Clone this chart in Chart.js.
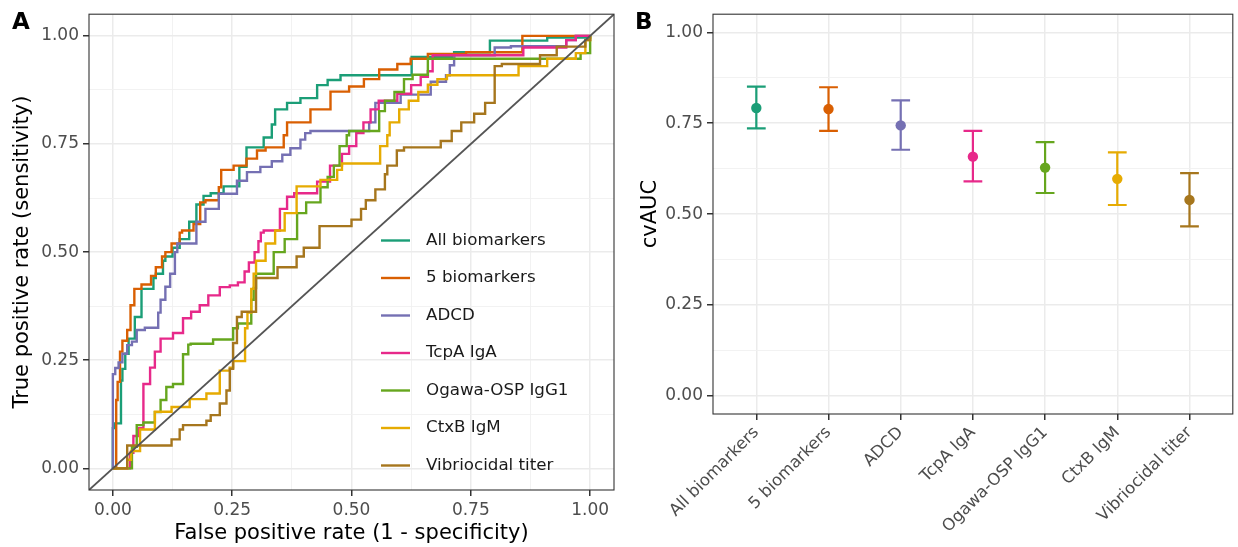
<!DOCTYPE html>
<html>
<head>
<meta charset="utf-8">
<title>ROC curves and cvAUC</title>
<script src="https://cdn.jsdelivr.net/npm/chart.js@4.4.1/dist/chart.umd.min.js"></script>
<style>
  body { margin: 0; background: #fff; }
  #wrap { position: relative; width: 1238px; height: 547px; overflow: hidden; }
  canvas { position: absolute; top: 0; }
  #rocChart { left: 0; }
  #aucChart { left: 620px; }
  .tag { position: absolute; font: bold 23px "DejaVu Sans", sans-serif; line-height: 1; color: #000; }
</style>
</head>
<body>
<div id="wrap">
  <canvas id="rocChart" width="620" height="547"></canvas>
  <canvas id="aucChart" width="618" height="547"></canvas>
  <div class="tag" style="left:12px;top:10px">A</div>
  <div class="tag" style="left:635px;top:10px">B</div>
</div>
<script>
// series names and colours (Dark2)
const seriesNames = ['All biomarkers', '5 biomarkers', 'ADCD', 'TcpA IgA', 'Ogawa-OSP IgG1', 'CtxB IgM', 'Vibriocidal titer'];
const seriesColors = ['#1B9E77', '#D95F02', '#7570B3', '#E7298A', '#66A61E', '#E6AB02', '#A6761D'];

// ROC curves, [false positive rate, true positive rate] at each step
const rocAll = [[0,0],[0.003,0.093],[0.017,0.104],[0.02,0.203],[0.026,0.23],[0.033,0.265],[0.046,0.3],[0.06,0.35],[0.085,0.415],[0.09,0.44],[0.105,0.45],[0.11,0.48],[0.125,0.49],[0.14,0.51],[0.16,0.53],[0.175,0.57],[0.19,0.61],[0.205,0.63],[0.232,0.636],[0.265,0.652],[0.28,0.697],[0.316,0.742],[0.333,0.765],[0.34,0.795],[0.365,0.83],[0.393,0.845],[0.428,0.856],[0.45,0.886],[0.477,0.898],[0.626,0.909],[0.715,0.951],[0.79,0.962],[0.91,0.989],[1,0.996],[1,1]];
const rocFive = [[0,0],[0.007,0],[0.01,0.158],[0.015,0.2],[0.02,0.27],[0.03,0.295],[0.037,0.32],[0.045,0.377],[0.06,0.415],[0.08,0.425],[0.09,0.445],[0.103,0.465],[0.11,0.49],[0.123,0.5],[0.14,0.52],[0.145,0.545],[0.169,0.55],[0.183,0.565],[0.194,0.615],[0.222,0.62],[0.227,0.65],[0.253,0.69],[0.28,0.7],[0.302,0.716],[0.32,0.735],[0.358,0.742],[0.365,0.77],[0.414,0.8],[0.456,0.83],[0.495,0.871],[0.526,0.883],[0.558,0.9],[0.596,0.922],[0.624,0.935],[0.66,0.947],[0.74,0.958],[0.858,0.962],[1,1]];
const rocADCD = [[0,0],[0.005,0.218],[0.012,0.232],[0.02,0.245],[0.03,0.265],[0.04,0.285],[0.05,0.293],[0.067,0.32],[0.095,0.325],[0.1,0.36],[0.11,0.39],[0.12,0.42],[0.13,0.45],[0.135,0.5],[0.175,0.52],[0.194,0.57],[0.222,0.6],[0.26,0.635],[0.281,0.665],[0.309,0.685],[0.333,0.697],[0.355,0.71],[0.372,0.725],[0.393,0.74],[0.403,0.76],[0.414,0.775],[0.537,0.78],[0.55,0.8],[0.603,0.845],[0.666,0.864],[0.698,0.894],[0.706,0.909],[0.715,0.932],[0.8,0.955],[0.834,0.973],[0.95,0.976],[0.97,0.99],[1,1]];
const rocTcpA = [[0,0],[0.036,0],[0.043,0.036],[0.054,0.075],[0.064,0.093],[0.078,0.195],[0.088,0.233],[0.1,0.27],[0.126,0.3],[0.147,0.313],[0.164,0.347],[0.182,0.362],[0.2,0.377],[0.224,0.4],[0.245,0.419],[0.262,0.423],[0.276,0.43],[0.285,0.455],[0.297,0.476],[0.305,0.5],[0.31,0.525],[0.316,0.545],[0.35,0.55],[0.365,0.6],[0.38,0.628],[0.428,0.636],[0.455,0.663],[0.48,0.7],[0.495,0.727],[0.51,0.745],[0.525,0.775],[0.54,0.8],[0.557,0.83],[0.596,0.85],[0.625,0.866],[0.645,0.886],[0.66,0.905],[0.67,0.918],[0.86,0.955],[0.95,0.973],[0.97,0.99],[1,1]];
const rocOgawa = [[0,0],[0.04,0],[0.05,0.05],[0.064,0.1],[0.088,0.106],[0.1,0.13],[0.112,0.158],[0.126,0.188],[0.147,0.195],[0.158,0.264],[0.163,0.286],[0.21,0.288],[0.252,0.298],[0.262,0.324],[0.29,0.335],[0.295,0.39],[0.3,0.417],[0.337,0.45],[0.36,0.5],[0.386,0.53],[0.405,0.59],[0.435,0.615],[0.45,0.65],[0.463,0.674],[0.475,0.7],[0.49,0.745],[0.495,0.77],[0.558,0.78],[0.57,0.826],[0.59,0.85],[0.61,0.87],[0.628,0.9],[0.66,0.91],[0.687,0.947],[0.98,0.947],[1,0.96],[1,1]];
const rocCtxB = [[0,0],[0.03,0],[0.038,0.02],[0.057,0.04],[0.088,0.09],[0.123,0.131],[0.161,0.142],[0.196,0.16],[0.224,0.173],[0.245,0.226],[0.252,0.233],[0.277,0.248],[0.282,0.324],[0.29,0.36],[0.295,0.415],[0.3,0.45],[0.32,0.48],[0.34,0.52],[0.36,0.55],[0.385,0.59],[0.435,0.652],[0.47,0.667],[0.48,0.69],[0.56,0.705],[0.575,0.745],[0.58,0.77],[0.6,0.8],[0.62,0.83],[0.64,0.85],[0.66,0.87],[0.68,0.887],[0.7,0.9],[0.85,0.909],[0.91,0.93],[0.97,0.947],[0.99,0.96],[1,0.99],[1,1]];
const rocVibrio = [[0,0],[0.03,0],[0.123,0.053],[0.14,0.067],[0.147,0.09],[0.196,0.1],[0.205,0.11],[0.224,0.123],[0.238,0.15],[0.245,0.18],[0.252,0.23],[0.26,0.29],[0.27,0.35],[0.3,0.362],[0.345,0.44],[0.385,0.465],[0.4,0.49],[0.433,0.51],[0.5,0.56],[0.52,0.575],[0.53,0.6],[0.55,0.62],[0.57,0.645],[0.575,0.68],[0.595,0.7],[0.61,0.735],[0.687,0.742],[0.71,0.757],[0.73,0.78],[0.757,0.8],[0.78,0.82],[0.8,0.845],[0.815,0.93],[0.895,0.935],[0.93,0.955],[0.99,0.975],[1,0.99],[1,1]];

// cross-validated AUC with confidence limits
const cvAUC   = [0.792, 0.789, 0.744, 0.658, 0.628, 0.597, 0.539];
const ciLower = [0.736, 0.729, 0.677, 0.590, 0.558, 0.525, 0.466];
const ciUpper = [0.851, 0.849, 0.813, 0.729, 0.698, 0.670, 0.613];

// axis breaks
const majorTicks = [0, 0.25, 0.5, 0.75, 1];
const minorTicks = [0.125, 0.375, 0.625, 0.875];
const axisMin = -0.05, axisMax = 1.05;

Chart.defaults.font.family = '"DejaVu Sans", sans-serif';
Chart.defaults.animation = false;

const tickFont = { size: 17 };
const tickColor = '#4D4D4D';
const isMinor = v => minorTicks.includes(v);

function gridOpts(withMinor) {
  return {
    color: c => withMinor && isMinor(c.tick.value) ? '#F0F0F0' : '#EBEBEB',
    lineWidth: c => withMinor && isMinor(c.tick.value) ? 0.9 : 1.5,
    tickColor: c => withMinor && isMinor(c.tick.value) ? 'rgba(0,0,0,0)' : '#333333',
    tickLength: 6
  };
}

function unitAxis(extra) {
  return Object.assign({
    type: 'linear',
    min: axisMin,
    max: axisMax,
    border: { display: false },
    grid: gridOpts(true),
    afterBuildTicks: axis => {
      axis.ticks = majorTicks.concat(minorTicks).sort((a, b) => a - b).map(v => ({ value: v }));
    },
    ticks: {
      autoSkip: false,
      maxRotation: 0,
      padding: 4,
      font: tickFont,
      color: tickColor,
      callback: v => majorTicks.includes(v) ? v.toFixed(2) : ''
    }
  }, extra);
}

// dark frame around the panel, drawn over the data like theme_bw
const panelBorder = {
  id: 'panelBorder',
  afterDraw(chart) {
    const { ctx, chartArea: a } = chart;
    ctx.save();
    ctx.strokeStyle = '#333333';
    ctx.lineWidth = 1.1;
    ctx.strokeRect(a.left, a.top, a.right - a.left, a.bottom - a.top);
    ctx.restore();
  }
};

// legend inside panel A
const rocLegend = {
  id: 'rocLegend',
  afterDatasetsDraw(chart) {
    const ctx = chart.ctx;
    ctx.save();
    ctx.font = '16.7px "DejaVu Sans", sans-serif';
    ctx.textBaseline = 'middle';
    seriesNames.forEach((name, i) => {
      const y = 240.5 + i * 37.5;
      ctx.strokeStyle = seriesColors[i];
      ctx.lineWidth = 2.4;
      ctx.beginPath();
      ctx.moveTo(381, y);
      ctx.lineTo(410, y);
      ctx.stroke();
      ctx.fillStyle = '#1A1A1A';
      ctx.fillText(name, 426, y);
    });
    ctx.restore();
  }
};

// error bars for panel B, under the points
const errorBars = {
  id: 'errorBars',
  beforeDatasetsDraw(chart) {
    const { ctx, scales: { x, y } } = chart;
    const half = x.getPixelForValue(0.13) - x.getPixelForValue(0);
    ctx.save();
    ctx.lineWidth = 2.2;
    cvAUC.forEach((v, i) => {
      const px = x.getPixelForValue(i);
      const lo = y.getPixelForValue(ciLower[i]);
      const hi = y.getPixelForValue(ciUpper[i]);
      ctx.strokeStyle = seriesColors[i];
      ctx.beginPath();
      ctx.moveTo(px, lo); ctx.lineTo(px, hi);
      ctx.moveTo(px - half, lo); ctx.lineTo(px + half, lo);
      ctx.moveTo(px - half, hi); ctx.lineTo(px + half, hi);
      ctx.stroke();
    });
    ctx.restore();
  }
};

const rocSeries = [rocAll, rocFive, rocADCD, rocTcpA, rocOgawa, rocCtxB, rocVibrio];

const rocDatasets = rocSeries.map((pts, i) => ({
  label: seriesNames[i],
  data: pts.map(p => ({ x: p[0], y: p[1] })),
  borderColor: seriesColors[i],
  borderWidth: 2.4,
  pointRadius: 0,
  stepped: 'after',
  fill: false,
  order: rocSeries.length - i
}));
rocDatasets.push({
  label: 'chance',
  data: [{ x: axisMin, y: axisMin }, { x: axisMax, y: axisMax }],
  borderColor: '#555555',
  borderWidth: 1.8,
  pointRadius: 0,
  fill: false,
  order: 0
});

new Chart(document.getElementById('rocChart'), {
  type: 'line',
  data: { datasets: rocDatasets },
  options: {
    responsive: false,
    devicePixelRatio: 1,
    events: [],
    layout: { padding: { left: 0, right: 6, top: 9, bottom: 0 } },
    plugins: { legend: { display: false }, tooltip: { enabled: false } },
    scales: {
      x: unitAxis({
        afterFit: s => { s.height = 57; },
        title: { display: true, text: 'False positive rate (1 - specificity)', color: '#000', font: { size: 21 }, padding: { top: 0, bottom: 1 } }
      }),
      y: unitAxis({
        afterFit: s => { s.width = 89; },
        title: { display: true, text: 'True positive rate (sensitivity)', color: '#000', font: { size: 21 }, padding: { top: 10, bottom: 0 } }
      })
    }
  },
  plugins: [rocLegend, panelBorder]
});

new Chart(document.getElementById('aucChart'), {
  type: 'scatter',
  data: {
    datasets: [{
      data: cvAUC.map((v, i) => ({ x: i, y: v })),
      pointBackgroundColor: seriesColors,
      pointBorderWidth: 0,
      pointRadius: 5.2
    }]
  },
  options: {
    responsive: false,
    devicePixelRatio: 1,
    events: [],
    layout: { padding: { left: 0, right: 1.5, top: 9, bottom: 0 } },
    plugins: { legend: { display: false }, tooltip: { enabled: false } },
    scales: {
      x: {
        type: 'linear',
        min: -0.6,
        max: seriesNames.length - 0.4,
        border: { display: false },
        grid: gridOpts(false),
        afterBuildTicks: axis => { axis.ticks = seriesNames.map((n, i) => ({ value: i })); },
        afterFit: s => { s.height = 133; },
        ticks: {
          autoSkip: false,
          minRotation: 45,
          maxRotation: 45,
          padding: 3,
          font: { size: 16.5 },
          color: tickColor,
          callback: v => seriesNames[v]
        }
      },
      y: unitAxis({
        afterFit: s => { s.width = 93; },
        title: { display: true, text: 'cvAUC', color: '#000', font: { size: 21 }, padding: { top: 18, bottom: 0 } }
      })
    }
  },
  plugins: [errorBars, panelBorder]
});
</script>
</body>
</html>
